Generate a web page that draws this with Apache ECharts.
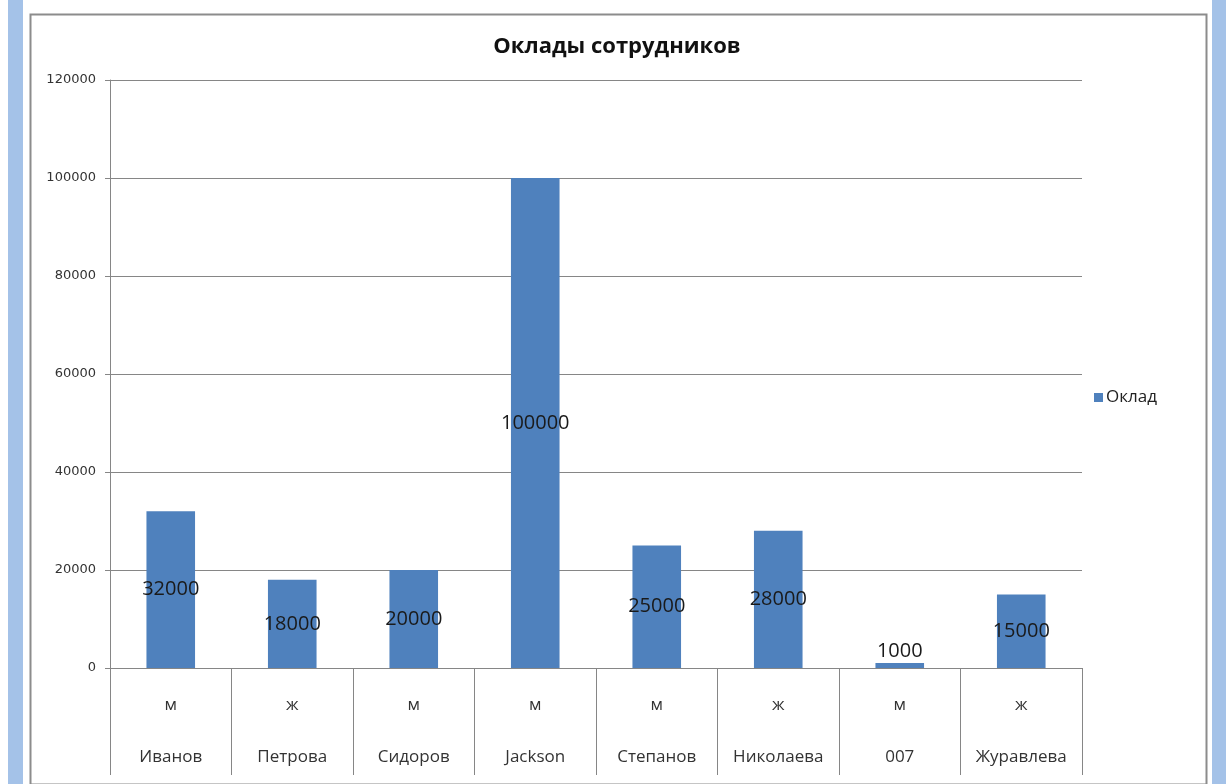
<!DOCTYPE html>
<html>
<head>
<meta charset="utf-8">
<script src="https://cdn.jsdelivr.net/npm/echarts@6/dist/echarts.min.js"></script>
<style>
  html, body { margin: 0; padding: 0; background: #fff; }
  #main { width: 1226px; height: 784px; }
</style>
</head>
<body>
<div id="main"></div>
<script>
  // данные диаграммы
  var names = ['Иванов', 'Петрова', 'Сидоров', 'Jackson', 'Степанов', 'Николаева', '007', 'Журавлева'];
  var genders = ['м', 'ж', 'м', 'м', 'м', 'ж', 'м', 'ж'];
  var salaries = [32000, 18000, 20000, 100000, 25000, 28000, 1000, 15000];
  var seriesName = 'Оклад';
  var chartTitle = 'Оклады сотрудников';

  var myChart = echarts.init(document.getElementById('main'));

  var cats = names.map(function (n, i) { return genders[i] + '|' + n; });

  // маленькие столбцы - подпись над столбцом
  var barData = salaries.map(function (v) {
    var item = { value: v };
    if (v < 5000) {
      item.label = { position: 'top', distance: 2 };
    }
    return item;
  });

  var option = {
    animation: false,
    backgroundColor: '#fff',
    title: {
      text: chartTitle,
      left: 612,
      textAlign: 'center',
      top: 31,
      textStyle: { fontFamily: 'Open Sans', fontSize: 22, fontWeight: 'bold', color: '#111' }
    },
    legend: {
      data: [seriesName],
      left: 1089,
      top: 384,
      icon: 'rect',
      itemWidth: 9,
      itemHeight: 9,
      itemGap: 4,
      textStyle: { fontFamily: 'Open Sans', fontSize: 17, color: '#222', padding: [0, 0, 0, -2] }
    },
    grid: { left: 110, right: 144, top: 80, bottom: 116 },
    xAxis: {
      type: 'category',
      data: cats,
      boundaryGap: true,
      axisLine: { show: true, lineStyle: { color: '#868686', width: 1 } },
      axisTick: { show: true, interval: 0, length: 107, lineStyle: { color: '#868686', width: 1 } },
      axisLabel: {
        interval: 0,
        margin: 11,
        formatter: function (v) {
          var p = v.split('|');
          return '{g|' + p[0] + '}\n{n|' + p[1] + '}';
        },
        rich: {
          g: { fontFamily: 'Open Sans', fontSize: 17, color: '#333', lineHeight: 52 },
          n: { fontFamily: 'Open Sans', fontSize: 17, color: '#333', lineHeight: 52 }
        }
      },
      splitLine: { show: false }
    },
    yAxis: {
      type: 'value',
      min: 0,
      max: 120000,
      interval: 20000,
      axisLine: { show: true, lineStyle: { color: '#868686', width: 1 } },
      axisTick: { show: true, inside: false, length: 5, lineStyle: { color: '#868686' } },
      axisLabel: {
        fontFamily: 'DejaVu Sans', fontSize: 13, color: '#333', margin: 14,
        formatter: function (v) { return String(v); }
      },
      splitLine: { show: true, lineStyle: { color: '#868686', width: 1 } }
    },
    series: [{
      name: seriesName,
      type: 'bar',
      data: barData,
      barWidth: '40%',
      itemStyle: { color: '#4f81bd' },
      label: {
        show: true,
        position: 'inside',
        fontFamily: 'Open Sans',
        fontSize: 20,
        color: '#1a1a1a'
      }
    }],
    graphic: [
      // голубые полосы по краям
      { type: 'rect', left: 8, top: 0, shape: { width: 15, height: 784 }, style: { fill: '#a4c2e8' }, silent: true },
      { type: 'rect', left: 1212, top: 0, shape: { width: 14, height: 784 }, style: { fill: '#a4c2e8' }, silent: true },
      // рамка области диаграммы
      { type: 'rect', left: 28, top: 12, shape: { width: 1176, height: 770 }, style: { fill: 'none', stroke: '#8c8c8c', lineWidth: 2 }, silent: true }
    ]
  };

  myChart.setOption(option);
</script>
</body>
</html>
